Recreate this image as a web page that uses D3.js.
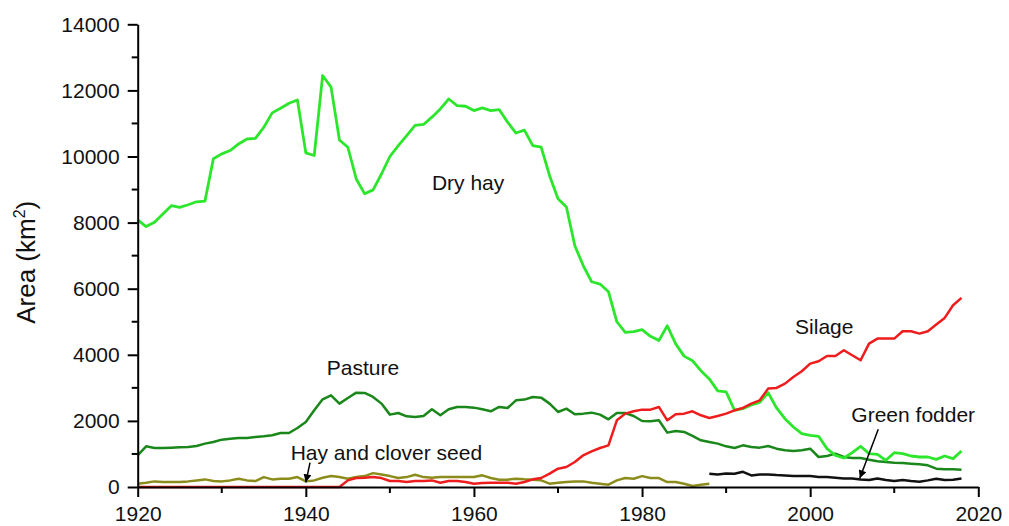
<!DOCTYPE html>
<html>
<head>
<meta charset="utf-8">
<script src="https://cdn.jsdelivr.net/npm/d3@7"></script>
<style>
    body { margin: 0; background: #fff; }
    svg { display: block; font-family: Arial, "Liberation Sans", sans-serif; }
</style>
</head>
<body>
<div id="chart"></div>
<script>
// chart data (km2 per year)
const startYear = 1920;

const dryHay = [
    8080, 7880, 8010, 8260, 8510, 8460, 8540, 8630, 8650, 9930,
    10080, 10180, 10380, 10530, 10550, 10880, 11320, 11460, 11610, 11710,
    10110, 10030, 12450, 12100, 10500, 10280, 9320, 8870, 8990, 9470,
    10000, 10330, 10630, 10940, 10970, 11190, 11440, 11740, 11540, 11520,
    11390, 11470, 11390, 11420, 11040, 10710, 10800, 10330, 10280, 9420,
    8720, 8470, 7300, 6700, 6210, 6140, 5910, 5000, 4680, 4700,
    4760, 4560, 4430, 4880, 4330, 3960, 3820, 3520, 3270, 2910,
    2880, 2321, 2370, 2480, 2560, 2855, 2391, 2068, 1816, 1614,
    1564, 1534, 1160, 958, 878, 1039, 1231, 1009, 989, 807,
    1039, 1009, 938, 908, 908, 837, 938, 858, 1090
];

const pasture = [
    959, 1231, 1181, 1181, 1191, 1200, 1211, 1241, 1312, 1362,
    1433, 1463, 1483, 1483, 1514, 1534, 1564, 1635, 1635, 1786,
    1968, 2321, 2654, 2775, 2523, 2694, 2855, 2845, 2724, 2523,
    2190, 2240, 2139, 2119, 2149, 2351, 2170, 2351, 2422, 2422,
    2401, 2351, 2290, 2422, 2391, 2623, 2644, 2724, 2704, 2523,
    2270, 2371, 2200, 2220, 2250, 2190, 2048, 2240, 2240, 2149,
    1998, 1988, 2018, 1645, 1695, 1665, 1544, 1413, 1362, 1312,
    1230, 1181, 1261, 1211, 1191, 1241, 1160, 1110, 1090, 1110,
    1160, 908, 938, 1009, 908, 878, 878, 827, 777, 757,
    737, 726, 706, 686, 656, 555, 535, 535, 525
];

const silage = [
    0, 0, 0, 0, 0, 0, 0, 0, 0, 0,
    0, 0, 0, 0, 0, 0, 0, 0, 0, 0,
    0, 0, 0, 0, 0, 200, 270, 280, 300, 270,
    180, 180, 150, 180, 180, 200, 130, 180, 180, 150,
    100, 121, 131, 131, 131, 100, 151, 232, 272, 404,
    555, 605, 757, 959, 1080, 1181, 1261, 2018, 2220, 2290,
    2341, 2341, 2422, 2018, 2200, 2220, 2290, 2170, 2089, 2149,
    2220, 2321, 2391, 2523, 2623, 2977, 2997, 3128, 3330, 3501,
    3733, 3804, 3965, 3965, 4137, 3986, 3834, 4339, 4490, 4490,
    4490, 4712, 4712, 4641, 4712, 4914, 5116, 5499, 5721
];

// hay and clover seed: 1920 - 1988
const haySeed = [
    100, 130, 170, 150, 150, 150, 170, 200, 230, 180,
    170, 200, 250, 200, 180, 300, 230, 250, 250, 300,
    170, 200, 280, 330, 300, 250, 300, 330, 420, 380,
    330, 270, 300, 370, 300, 280, 300, 300, 300, 300,
    303, 353, 272, 222, 222, 252, 232, 222, 202, 101,
    130, 150, 170, 170, 130, 100, 70, 200, 270, 250,
    330, 270, 270, 150, 150, 100, 30, 70, 100
];

// green fodder: 1988 - 2018
const fodderStart = 1988;
const greenFodder = [
    400, 380, 410, 400, 460, 350, 380, 380, 360, 350,
    330, 330, 330, 300, 300, 280, 260, 260, 230, 210,
    260, 210, 180, 210, 180, 160, 200, 250, 210, 220, 260
];

// axis ticks
const xTicks = [1920, 1940, 1960, 1980, 2000, 2020];
const xMinor = [1930, 1950, 1970, 1990, 2010];
const yTicks = [0, 2000, 4000, 6000, 8000, 10000, 12000, 14000];
const yMinor = [1000, 3000, 5000, 7000, 9000, 11000, 13000];

// turn a value array into {year, value} points
const toPoints = (arr, first) => arr.map((v, i) => ({year: first + i, value: v}));

const width = 1009;
const height = 526;

const svg = d3.select('#chart').append('svg')
    .attr('width', width)
    .attr('height', height);

const x = d3.scaleLinear()
    .domain([1920, 2020])
    .range([137.7, 978.3]);

const y = d3.scaleLinear()
    .domain([0, 14000])
    .range([487, 24.3]);

const line = d3.line()
    .x(d => x(d.year))
    .y(d => y(d.value));

// ### series lines ###
const series = [
    {data: toPoints(haySeed, startYear), colour: '#8c8c1c', w: 2.5},
    {data: toPoints(pasture, startYear), colour: '#1a871a', w: 2.5},
    {data: toPoints(dryHay, startYear), colour: '#2ce62c', w: 2.8},
    {data: toPoints(silage, startYear), colour: '#ee1c1c', w: 2.5},
    {data: toPoints(greenFodder, fodderStart), colour: '#111111', w: 2.5}
];

svg.append('g').selectAll('path')
    .data(series)
    .enter()
    .append('path')
        .attr('d', d => line(d.data))
        .style('fill', 'none')
        .style('stroke', d => d.colour)
        .style('stroke-width', d => d.w)
        .style('stroke-linejoin', 'round');

// ### axes ###
const xAxis = svg.append('g')
    .attr('transform', `translate(0, ${y(0)})`)
    .call(d3.axisBottom(x).tickValues(xTicks).tickFormat(d3.format('d'))
        .tickSize(10).tickSizeOuter(0).tickPadding(9));

const yAxis = svg.append('g')
    .attr('transform', `translate(${x(1920)}, 0)`)
    .call(d3.axisLeft(y).tickValues(yTicks).tickFormat(d3.format('d'))
        .tickSize(10).tickSizeOuter(0).tickPadding(8));

// minor ticks
xAxis.selectAll('line.minor')
    .data(xMinor)
    .enter()
    .append('line')
        .attr('class', 'minor')
        .attr('x1', d => x(d)).attr('x2', d => x(d))
        .attr('y1', 0).attr('y2', 6);

yAxis.selectAll('line.minor')
    .data(yMinor)
    .enter()
    .append('line')
        .attr('class', 'minor')
        .attr('y1', d => y(d)).attr('y2', d => y(d))
        .attr('x1', 0).attr('x2', -6);

[xAxis, yAxis].forEach(a => {
    a.selectAll('path, line').style('stroke', '#000').style('stroke-width', 2);
    a.selectAll('text').style('font-size', '21px').style('fill', '#111')
        .style('font-family', 'Arial, "Liberation Sans", sans-serif');
});

// y axis title
const title = svg.append('text')
    .attr('transform', `translate(35, ${y(6800)}) rotate(-90)`)
    .attr('text-anchor', 'middle')
    .style('font-size', '26px')
    .style('fill', '#111');
title.append('tspan').text('Area (km');
title.append('tspan').text('2').attr('dy', -10).style('font-size', '16px');
title.append('tspan').text(')').attr('dy', 10);

// ### series labels ###
const labels = [
    {text: 'Dry hay', year: 1955.0, value: 8990},
    {text: 'Pasture', year: 1942.5, value: 3390},
    {text: 'Hay and clover seed', year: 1938.2, value: 817},
    {text: 'Silage', year: 1998.2, value: 4623},
    {text: 'Green fodder', year: 2004.9, value: 1977}
];

svg.append('g').selectAll('text')
    .data(labels)
    .enter()
    .append('text')
        .attr('x', d => x(d.year))
        .attr('y', d => y(d.value))
        .text(d => d.text)
        .style('font-size', '21px')
        .style('fill', '#111');

// annotation arrows
svg.append('defs').append('marker')
    .attr('id', 'head')
    .attr('viewBox', '0 0 10 10')
    .attr('refX', 10).attr('refY', 5)
    .attr('markerWidth', 10).attr('markerHeight', 8)
    .attr('markerUnits', 'userSpaceOnUse')
    .attr('orient', 'auto')
    .append('path')
        .attr('d', 'M0,0 L10,5 L0,10 Z')
        .style('fill', '#000');

const arrows = [
    {from: [1940.5, 735], to: [1940.0, 142]},
    {from: [2008.1, 1747], to: [2005.9, 263]}
];

svg.append('g').selectAll('line')
    .data(arrows)
    .enter()
    .append('line')
        .attr('x1', d => x(d.from[0])).attr('y1', d => y(d.from[1]))
        .attr('x2', d => x(d.to[0])).attr('y2', d => y(d.to[1]))
        .style('stroke', '#000')
        .style('stroke-width', 1.5)
        .attr('marker-end', 'url(#head)');
</script>
</body>
</html>
